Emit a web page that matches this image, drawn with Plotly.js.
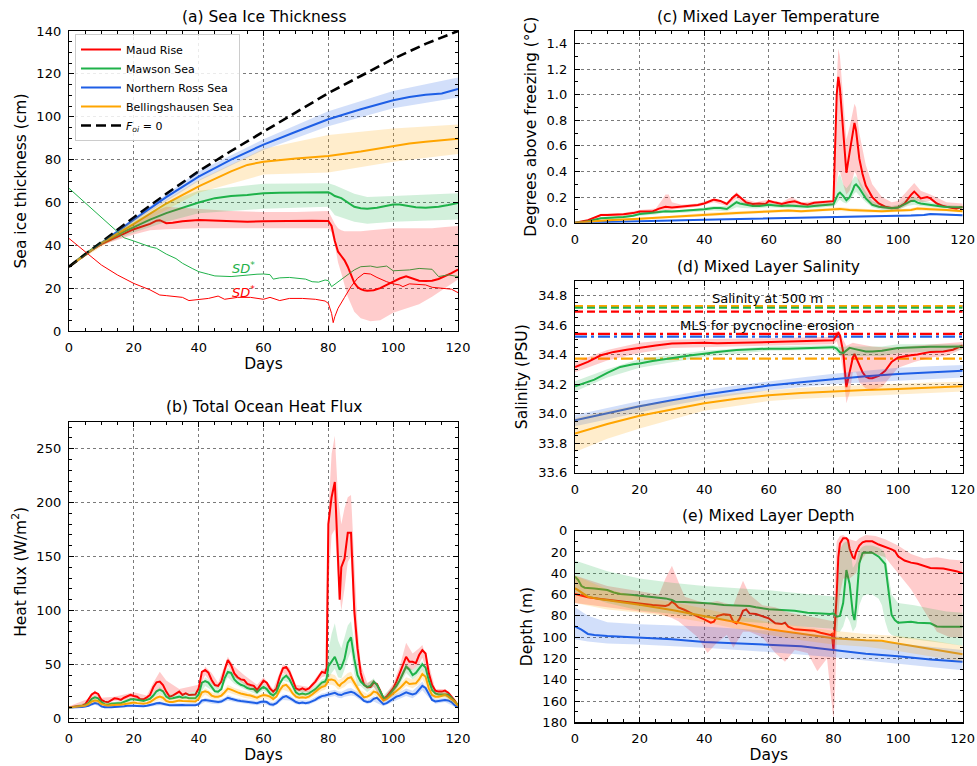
<!DOCTYPE html>
<html><head><meta charset="utf-8">
<script src="https://cdn.plot.ly/plotly-3.0.1.min.js"></script>
<style>html,body{margin:0;padding:0;background:#fff}#chart{width:977px;height:766px}</style>
</head><body><div id="chart"></div>
<script>
// ---------------- (a) Sea ice thickness ----------------
const aFoiDays = [0,10,20,30,40,50,60,70,80,90,100,110,120];
const aFoi     = [30,41.5,53,64,74.5,84,93,102,111,119,127,134,140];

const aRedDays = [0,5,10,15,20,25,27,28,30,32,35,40,45,50,55,60,65,70,75,80,81,82,83,84,85,86,87,88,89,90,91,92,94,96,98,100,102,104,106,108,110,112,114,116,118,120];
const aRed     = [30,36,40.5,44,47.5,50,51.5,51.7,50.3,50.5,51.2,51.8,51.5,51,51,51.2,51.4,51.4,51.5,51.3,49,42,37,35,33,30,26,22.5,20.5,19.5,19,18.8,19,20,21.5,23,24.5,25.5,24.5,23.5,23.3,23.5,24.3,25.5,27,28.7];
const aRedBandDays = [0,10,20,25,30,40,50,60,70,80,81,82,83,84,85,86,88,90,93,96,100,104,108,112,116,120];
const aRedHi = [30,41,50,55,58,57,56,55.5,55.5,56,53,50,48,47,46.5,46.5,46.5,46.5,47,47.5,48,48,48,48,48.5,49];
const aRedLo = [30,40,45,47,47.5,48,48,48,48,48,46,40,32,27,22,16,9,6,4.5,5,8.5,10.5,12.5,16,20,24];

const aGreenDays = [0,5,10,15,20,25,30,35,40,45,50,55,60,65,70,75,80,81,82,84,86,88,90,92,95,98,100,102,104,107,110,114,117,120];
const aGreen     = [30,36,41,45,48.5,52,55,57.5,60,62,63,63.5,64.3,64.5,64.5,64.8,64.8,64,63,62,60,58,57.3,57,57.5,58.5,59,59,58.5,57.8,57.5,58,58.8,59.8];
const aGreenBandDays = [0,10,20,30,40,60,80,82,88,92,100,120];
const aGreenHi = [30,42,51,60,65.5,68.7,69,68,64,62.5,63,64.3];
const aGreenLo = [30,40,46,51,55,57,58,54,51,50,51,52];

const aBlueDays = [0,10,20,30,40,50,60,70,80,90,100,105,110,115,120];
const aBlue     = [30,41,52,62.5,72,80,87,93,98.8,103.5,107.7,109.2,110.2,110.8,113];
const aBlueBandDays = [0,20,40,60,80,100,120];
const aBlueHi = [30,53,74.5,89.5,102.5,112,118.3];
const aBlueLo = [30,51,70,84.5,95.5,104,109];

const aOrangeDays = [0,10,20,30,40,50,55,60,70,80,90,100,105,110,120];
const aOrange     = [30,41,50,59.5,67.5,74.5,77.5,79,80.5,81.7,83.8,86.2,87.5,88.3,89.7];
const aOrangeBandDays = [0,20,40,60,80,100,120];
const aOrangeHi = [30,52,70.5,85,91.5,94.5,96.4];
const aOrangeLo = [30,48.5,64.5,73,74,79,82.6];

const aSDgDays = [0,5,10,15,17,20,22,25,27,30,33,35,38,40,43,45,50,55,58,60,62,63,65,68,70,73,75,77,79,80,81,83,85,88,90,93,95,98,100,102,105,108,110,112,114,117,120];
const aSDg     = [66.6,59.8,53,45.9,43.5,42,40.8,39.3,38.6,35.9,33.8,31.6,29.2,27.7,26.5,25.7,25.4,26.2,26.5,26.6,26.3,24.2,24.8,25,24.6,24.2,23,22.8,23.8,23.5,20.7,23,25.4,28.5,30,30.3,29.7,30.3,28.1,28.3,28.5,29.2,29,28.8,25.4,26.2,25.4];
const aSDrDays = [0,5,10,15,20,25,28,30,35,37,40,43,46,48,52,56,60,62,65,68,72,76,79,80,81,81.5,82,83,85,87,89,91,93,95,98,100,102,103,105,108,110,112,116,118,120];
const aSDr     = [43.2,37,30.8,26.1,22.2,19.2,16.8,16.5,15.7,14.2,14.8,15.2,16.3,14.8,15.7,15.7,14.8,15.7,14.2,15.2,15.2,14.8,14,12.9,8.2,3.9,6.7,10.6,15.7,20.7,24.6,26.9,26.6,25,23,22,21.5,20.7,22,21.5,21.5,20.4,19.9,19.5,17.9];

// ---------------- (b) Total ocean heat flux ----------------
const bDays = [0,1,2,3,4,5,6,7,8,9,10,11,12,13,14,15,16,17,18,19,20,21,22,23,24,25,26,27,28,29,30,31,32,33,34,35,36,37,38,39,40,41,42,43,44,45,46,47,48,49,50,51,52,53,54,55,56,57,58,59,60,61,62,63,64,65,66,67,68,69,70,71,72,73,74,75,76,77,78,79,79.5,80,81,82,83,83.5,84,85,86,87,88,89,90,91,92,93,94,95,96,97,98,99,100,101,102,103,104,105,106,107,108,109,110,111,112,113,114,115,116,117,118,119,120];
const bRed = [10.2,10.5,10.8,11,11.4,13,17,22,24,22.5,17,15.4,14.8,17,18.5,18,17,19,20.6,21.6,20.6,20,17.6,17.6,19.4,21.6,28.7,33.3,34,30.8,24.7,20,21,22.5,24.7,21.6,23,21.6,21.6,22,27.7,43,44.7,42.3,35.5,30.8,30,34,44.7,54,49.4,41.6,38,36,35.5,31.8,30.8,30,26.2,30.8,34.8,33,27.7,24.7,27.7,38.5,46.3,47.5,43,35.5,27.7,26.2,27.7,26.2,27.7,30.8,34,38.5,43,42,47,180,205,219,155,110,140,148,172,172,100,65,42,31,28.7,29,33,31.8,25.6,18.5,20,23.7,27.7,34,41.6,49.4,57,52.4,52.4,51,58.6,63.2,60,41.6,30.8,25.6,24.7,24.7,25.6,23.7,20,16.3,11.4];
const bGreen = [10,10.2,10.5,10.8,11,12,14,18,19.4,18.5,15,13,12.5,13.5,14,14,14,15,16.5,17.5,17.5,17,16,16,17,18,21,25,26.5,25,20,18,18.5,19,20,19,19.5,18.5,18.5,18.5,22,33,34.5,33,29,25,24.5,27,37,43,42,36,33,31,30,28,27,27,24,27,29,27,23,21,24,32,37,39.5,36,30,24,22,23,22,23,25,27,30,33,34,37,48,52,57,49,45,47,55,70,75,55,40,34,31,29,30,34,31,25,19,18.5,22,26.5,30,35,42,48,45,40,42,46,50,47,35,26,23,22,22,22.5,22,19,15.5,12.3];
const bBlue = [10,10,10.2,10.3,10.5,10.8,11.5,13,14,13.5,11,10.2,10,10.2,10.5,10.5,10.5,11,11.5,11.8,11.5,11.3,11,11,11.5,12,13,13.8,14,13.5,12.5,12,12,12.2,12.5,12.3,12,12,12,12,13,16.5,17,16.5,15.5,15,15,15.5,17,19,18,17,16.5,16,15.5,15.3,15,14.5,14,15,15.5,15,13,12.5,14,17,19.5,20.5,19,17,15,14,14.5,14,14.5,15.5,17,19,20.5,21,21.5,22,23,23.5,22,21.5,21.5,23,24,24.5,23.5,21.5,19,16,15,15.5,18,19,16,13,14,16,18.5,20,21,22.5,24,23,22,23,27,30,28,22,17,15.5,16,16.5,17,16.5,15,12,10];
const bOrange = [10,10.2,10.4,10.6,11,11.5,13,15.5,16.5,16,13,12,11.5,12,12.5,12.5,12.5,13,14,14.5,14.5,14,13.5,13.5,14,15,17,19,20,19,16,15,15,15.5,16.5,16,16,15.5,15.5,15.5,18,24,25,24,21,20,20,21,24,27.5,26.5,25,24,23,22,21.5,21,20,19,20.5,21.6,21,20,17.9,20,26,30,31,27.7,23,20,19,19.4,19,20,22,24.7,27,29,30,32,35.5,36,35,31,30,32,34,37,38,33,27.7,23,19.4,20,21.6,24.7,23.7,20,16.3,17.6,20,23,24.7,27.7,30.8,34,31.8,31.8,32.4,36,41,38.5,27.7,21.6,20,20,20.6,21.6,20,17.6,15.4,11.4];
const bBandDays = [0,6,8,10,14,20,24,26,28,30,34,40,42,44,46,48,49,51,54,58,60,63,66,68,70,74,78,79,80,81,82,83,84,85,86,87,88,89,90,92,94,97,100,102,104,106,108,109,111,113,116,120];
const bRedHi = [11,18,26,19,20,24,21,33,43,35,27,31,48,42,33,50,57,48,40,31,38,27,50,47,31,29,45,46,190,245,262,205,180,195,205,207,140,85,50,33,36,19,32,48,70,60,65,68,50,27,27,13];
const bRedLo = [9.5,14,21,15,16,18,17,23,28,21,22,25,40,32,27,40,49,38,32,23,32,22,42,38,25,24,38,39,120,170,175,130,100,120,145,150,80,50,35,27,29,15,23,33,45,45,50,56,37,22,22,11];
const bGreenHi = [10.5,15,21,16,15,19,18,23,29,22,22,25,38,33,28,41,47,40,33,27,32,24,41,39,27,25,36,37,62,78,88,72,65,75,86,90,68,50,36,32,37,21,30,39,50,45,50,53,38,24,25,13];
const bGreenLo = [9.5,13,17,14,13,16,16,19,23,18,18,20,30,26,22,33,38,32,27,22,26,19,35,33,21,21,30,31,36,42,46,38,37,45,55,62,42,30,30,24,29,16,23,31,42,36,41,45,31,21,20,11];
const bBlueHW = [0.5,1,1.5,1,1,1.2,1.2,1.5,2,1.5,1.5,1.5,2,2,2,2,2.5,2,2,2,2,2,2.5,2.5,2,2,2.5,2.5,3,3,3,3,3,3,3.5,3.5,3,3,2.5,2,2.5,2,3,3,3.5,3.5,4,4,3,2,2,1];
const bOrangeHW = [0.5,1.5,2,1.5,1.5,1.5,1.5,2,3,2,2,2,3,3,2.5,3,3.5,3,3,2.5,2.5,2.5,3.5,3.5,2.5,2.5,3.5,3.5,4.5,5,5,4.5,4.5,5,5,5,4.5,3.5,3,2.5,3,2,3,3.5,4,4,4.5,4.5,3.5,2.5,2.5,1];

// ---------------- (c) Mixed layer temperature ----------------
const cDays = [0,4,8,10,15,18,20,24,26,28,30,35,38,40,43,45,47,49,50,51,53,55,57,59,60,62,64,66,68,70,72,74,76,78,80,81,81.5,82,83,84,85,86,86.5,87,88,89,90,92,94,96,98,100,102,104,105,106,107,109,110,112,114,116,118,120];
const cRed = [0,0.02,0.06,0.06,0.066,0.075,0.088,0.088,0.11,0.125,0.118,0.128,0.138,0.15,0.18,0.17,0.146,0.2,0.22,0.2,0.157,0.146,0.15,0.146,0.17,0.157,0.146,0.16,0.168,0.15,0.14,0.155,0.16,0.162,0.168,1.0,1.14,1.05,0.7,0.39,0.55,0.72,0.78,0.72,0.5,0.38,0.29,0.2,0.15,0.125,0.115,0.118,0.15,0.217,0.243,0.217,0.19,0.2,0.19,0.15,0.13,0.118,0.11,0.125];
const cGreen = [0,0.012,0.035,0.037,0.045,0.055,0.068,0.078,0.083,0.09,0.088,0.095,0.1,0.105,0.115,0.115,0.107,0.145,0.16,0.15,0.14,0.13,0.13,0.135,0.14,0.135,0.13,0.135,0.133,0.13,0.125,0.13,0.133,0.14,0.144,0.2,0.225,0.235,0.21,0.175,0.2,0.256,0.29,0.3,0.27,0.23,0.19,0.14,0.125,0.118,0.112,0.118,0.146,0.17,0.172,0.157,0.15,0.142,0.14,0.135,0.125,0.122,0.12,0.12];
const cBandDays = [0,5,8,15,20,25,27,28,29,30,33,38,43,47,50,52,56,60,64,67,70,75,79,80,81,81.5,82,83,84,85,86,86.5,87,88,90,92,95,98,100,103,105,107,110,115,120];
const cRedHi = [0,0.03,0.07,0.075,0.1,0.11,0.18,0.22,0.22,0.16,0.14,0.15,0.19,0.16,0.24,0.19,0.16,0.18,0.16,0.2,0.16,0.17,0.18,0.18,1.1,1.36,1.3,0.95,0.65,0.75,0.88,0.93,0.9,0.7,0.45,0.3,0.2,0.16,0.17,0.25,0.31,0.25,0.22,0.16,0.15];
const cRedLo = [0,0.01,0.05,0.055,0.075,0.075,0.1,0.1,0.1,0.1,0.11,0.125,0.16,0.13,0.19,0.15,0.125,0.15,0.13,0.14,0.13,0.13,0.14,0.14,0.3,0.4,0.4,0.3,0.22,0.25,0.35,0.4,0.38,0.3,0.2,0.14,0.11,0.1,0.1,0.14,0.18,0.16,0.17,0.12,0.1];
const cGreenHi = [0,0.02,0.045,0.055,0.08,0.09,0.1,0.1,0.1,0.1,0.1,0.11,0.13,0.13,0.18,0.16,0.15,0.155,0.145,0.15,0.14,0.15,0.16,0.16,0.3,0.36,0.38,0.3,0.27,0.3,0.34,0.36,0.36,0.33,0.24,0.17,0.14,0.13,0.14,0.19,0.2,0.18,0.16,0.14,0.13];
const cGreenLo = [0,0.01,0.025,0.035,0.055,0.065,0.075,0.075,0.078,0.075,0.075,0.085,0.095,0.09,0.12,0.115,0.11,0.12,0.115,0.115,0.11,0.115,0.125,0.125,0.15,0.17,0.18,0.16,0.15,0.17,0.21,0.23,0.24,0.21,0.16,0.12,0.1,0.095,0.1,0.13,0.14,0.13,0.12,0.11,0.105];
const cDays2 = [0,10,20,30,40,50,60,66,70,80,82,85,90,95,100,104,106,108,110,115,120];
const cOrange = [0,0.02,0.03,0.045,0.065,0.075,0.088,0.095,0.09,0.105,0.108,0.1,0.095,0.09,0.095,0.1,0.11,0.11,0.105,0.1,0.09];
const cBlue = [0,0.004,0.01,0.017,0.024,0.03,0.035,0.037,0.038,0.045,0.047,0.05,0.052,0.053,0.055,0.056,0.057,0.06,0.067,0.062,0.058];
const cOrangeHW = [0,0.008,0.01,0.01,0.012,0.012,0.012,0.013,0.012,0.012,0.015,0.015,0.015,0.012,0.012,0.013,0.015,0.015,0.015,0.013,0.012];
const cBlueHW = [0,0.003,0.004,0.005,0.006,0.006,0.006,0.006,0.006,0.007,0.007,0.007,0.007,0.007,0.008,0.008,0.008,0.008,0.008,0.008,0.008];

// ---------------- (d) Mixed layer salinity ----------------
const dRedDays = [0,4,8,12,16,20,25,30,35,40,44,50,55,60,65,70,75,80,81,81.5,82,83,84,85,86,86.5,87,88,89,90,91,92,93,94,96,98,100,102,104,106,108,110,114,117,120];
const dRed = [34.316,34.35,34.395,34.418,34.433,34.447,34.462,34.474,34.478,34.48,34.476,34.48,34.482,34.485,34.487,34.49,34.493,34.496,34.53,34.546,34.53,34.42,34.18,34.28,34.38,34.405,34.38,34.33,34.28,34.25,34.24,34.24,34.245,34.255,34.29,34.35,34.38,34.39,34.395,34.4,34.41,34.418,34.42,34.433,34.462];
const dRedBandDays = [0,10,20,30,40,50,60,70,80,81,82,83,84,85,86,87,88,90,92,95,98,100,105,108,110,115,120];
const dRedHi = [34.35,34.43,34.48,34.5,34.505,34.505,34.51,34.515,34.52,34.56,34.555,34.5,34.46,34.47,34.48,34.475,34.47,34.46,34.455,34.45,34.45,34.45,34.46,34.465,34.47,34.48,34.485];
const dRedLo = [34.28,34.36,34.41,34.445,34.455,34.455,34.46,34.465,34.47,34.49,34.42,34.28,34.07,34.14,34.28,34.28,34.21,34.17,34.16,34.18,34.26,34.31,34.35,34.37,34.38,34.39,34.44];
const dGreenDays = [0,4,6,10,14,18,20,24,28,32,36,40,44,50,56,60,66,70,74,78,80,81,82,83,84,85,86,88,90,92,95,100,105,110,115,120];
const dGreen = [34.185,34.215,34.23,34.276,34.316,34.335,34.34,34.356,34.37,34.383,34.395,34.406,34.418,34.43,34.437,34.44,34.44,34.444,34.447,34.45,34.45,34.44,34.415,34.41,34.43,34.445,34.44,34.43,34.42,34.42,34.425,34.444,34.45,34.452,34.453,34.455];
const dGreenBandDays = [0,10,20,30,40,60,80,82,84,88,95,100,120];
const dGreenHi = [34.22,34.3,34.37,34.4,34.425,34.455,34.465,34.45,34.455,34.455,34.455,34.47,34.47];
const dGreenLo = [34.15,34.245,34.31,34.345,34.385,34.425,34.435,34.39,34.39,34.39,34.39,34.41,34.43];
const dDays2 = [0,10,20,30,40,50,60,70,80,90,100,110,120];
const dBlue = [33.955,34.005,34.05,34.09,34.128,34.16,34.19,34.212,34.235,34.253,34.268,34.28,34.29];
const dBlueHi = [33.99,34.04,34.085,34.12,34.158,34.19,34.22,34.245,34.27,34.292,34.31,34.32,34.33];
const dBlueLo = [33.915,33.965,34.01,34.055,34.095,34.128,34.158,34.18,34.2,34.215,34.225,34.235,34.245];
const dOrange = [33.865,33.93,33.985,34.03,34.07,34.1,34.125,34.14,34.152,34.16,34.167,34.178,34.185];
const dOrangeHi = [33.97,34.02,34.06,34.09,34.115,34.14,34.16,34.175,34.185,34.195,34.2,34.21,34.215];
const dOrangeLo = [33.74,33.83,33.9,33.96,34.02,34.055,34.085,34.1,34.115,34.125,34.13,34.14,34.15];
// reference levels: salinity at 500 m (dashed) and MLS for pycnocline erosion (dash-dot)
const dS500 = {blue:34.728, orange:34.728, green:34.717, red:34.69};
const dMLS  = {orange:34.372, blue:34.522, red:34.54};

// ---------------- (e) Mixed layer depth ----------------
const eRedDays = [0,2,4,8,12,16,20,24,28,29,30,31,32,34,36,38,40,42,43,44,46,48,49,50,51,52,53,54,56,58,60,62,64,65,66,68,70,72,74,76,78,79,79.5,80,81,81.5,82,83,84,84.5,85,86,86.5,87,88,89,90,92,94,96,98,99,100,102,104,106,108,110,114,116,118,120];
const eRed = [59.5,61.4,62.6,64.2,65.8,66.7,68.3,69.8,70.8,69.8,66.7,68.9,72,74.5,77.7,80.8,83.3,86.4,85.4,80.2,78.6,79.2,85.5,87.1,82.4,75.2,73.9,77.7,78.3,80.2,82.4,87,87.7,86.4,90.2,92.7,93.3,94,94,95.8,97.1,98,97,112,60,25,12,7,7,9,17,25,26,20,14,11,10,10,13,15,17.5,19,24,28,30,31,33,35,35.5,36.5,38,40];
const eRedBandDays = [0,10,20,26,28,30,32,34,38,41,44,47,49,50,52,54,58,62,65,68,72,75,78,80,80.5,81,82,83,85,87,88,90,93,96,100,104,108,112,116,120];
const eRedHi = [42,52,57,60,45,33,48,62,66,68,66,68,70,62,47,60,70,72,76,78,80,82,84,85,40,10,5,4,8,10,7,4,5,8,14,22,26,25,27,28];
const eRedLo = [68,72,76,78,80,82,85,90,100,115,105,98,110,105,95,95,100,115,123,112,115,132,120,178,150,100,60,45,45,40,30,22,22,25,40,55,75,95,100,100];
const eGreenDays = [0,1,2,3,6,8,10,12,14,18,22,26,28,30,31,34,38,42,46,50,54,56,60,64,68,72,76,79,80,81,82,83,84,85,86,86.5,87,88,89,90,92,94,96,97,98,99,100,104,106,110,112,114,116,120];
const eGreen = [43.2,46.3,52,53.6,54.2,54.8,55.7,58,59.5,60.4,61.4,62.6,63.6,65.1,66.7,67,67.6,68.3,69.8,70.5,70.8,72,73.9,74.5,75.2,77,77.7,78.3,77.7,80.8,80,68,37,50,77.7,84,71,30.7,21,20.4,20.7,24.4,31.3,55.7,79.2,84,86.4,85.5,86.4,87,90,90.2,90.2,90.2];
const eGreenBandDays = [0,10,20,30,40,50,60,70,80,81,82,83,84,85,86,87,88,89,90,92,94,95,96,97,98,100,105,110,115,120];
const eGreenHi = [28,38,45,49,52,54,56,59,62,62,18,12,10,12,35,30,18,15,14,14,16,18,22,40,60,68,70,73,76,77];
const eGreenLo = [58,68,75,78,82,85,87,90,92,95,95,90,80,85,95,90,70,62,60,60,64,70,85,95,98,100,102,104,106,108];
const eOrangeDays = [0,2,4,8,12,20,30,40,50,60,70,80,90,95,97,100,105,110,120];
const eOrange = [54,58,62,64.5,66,69.5,74.5,80,86,92.5,97,101,103,103.5,104.5,106,109,111,116];
const eOrangeBandDays = [0,10,20,30,40,50,60,70,80,90,100,110,120];
const eOrangeHi = [42,55,62,67,73,80,86,90,94,97,99,103,108];
const eOrangeLo = [68,74,77,81,86,92,98,103,107,109,113,118,123];
const eBlueDays = [0,2,4,6,10,20,30,40,50,60,70,80,90,100,110,120];
const eBlue = [90,93,97,98,99,100.5,102,104.5,106,107.2,108.5,112,115.5,118,121,123];
const eBlueBandDays = [0,4,10,20,40,60,80,100,120];
const eBlueHi = [72,80,86,88,90,94,99,106,112];
const eBlueLo = [102,104,106,107,110,114,119,125,131];

// ---------------- drawing ----------------
const W = 977, H = 766;
const FONT = 'DejaVu Sans, Verdana, sans-serif';
const RED = '#ff0000', GREEN = '#1fb24a', BLUE = '#1f5fe6', ORANGE = '#ffa500';
const RED_F = 'rgba(255,0,0,0.2)', GREEN_F = 'rgba(31,178,74,0.2)', BLUE_F = 'rgba(31,95,230,0.2)', ORANGE_F = 'rgba(255,165,0,0.2)';

const traces = [];
function ax(n){ return n === 1 ? ['x','y'] : ['x'+n,'y'+n]; }
function L(n, x, y, color, opt){
  const [xa, ya] = ax(n);
  const t = {type:'scatter', mode:'lines', x:x, y:y, xaxis:xa, yaxis:ya,
    line:{color:color, width:2}, hoverinfo:'skip', showlegend:false};
  if (opt) Object.assign(t, opt);
  traces.push(t);
}
function B(n, x, lo, hi, fill){
  const [xa, ya] = ax(n);
  traces.push({type:'scatter', mode:'lines', x:x.concat(x.slice().reverse()),
    y:hi.concat(lo.slice().reverse()), fill:'toself', fillcolor:fill,
    line:{width:0, color:'rgba(0,0,0,0)'}, xaxis:xa, yaxis:ya, hoverinfo:'skip', showlegend:false});
}
function HW(bandX, hw, lineX, lineY){
  const lo = [], hi = [];
  bandX.forEach((d, i) => { const m = lineY[lineX.indexOf(d)]; lo.push(m - hw[i]); hi.push(m + hw[i]); });
  return [lo, hi];
}

// (a)
L(1, aRedDays, aRed, RED, {name:'Maud Rise', showlegend:true});
L(1, aGreenDays, aGreen, GREEN, {name:'Mawson Sea', showlegend:true});
L(1, aBlueDays, aBlue, BLUE, {name:'Northern Ross Sea', showlegend:true});
L(1, aOrangeDays, aOrange, ORANGE, {name:'Bellingshausen Sea', showlegend:true});
L(1, aFoiDays, aFoi, '#000000', {name:'<i>F</i><sub><i>oi</i></sub> = 0', showlegend:true, line:{color:'#000', width:2.6, dash:'10px,5px'}});
L(1, aSDgDays, aSDg, GREEN, {line:{color:GREEN, width:1}});
L(1, aSDrDays, aSDr, RED, {line:{color:RED, width:1}});
B(1, aRedBandDays, aRedLo, aRedHi, RED_F);
B(1, aGreenBandDays, aGreenLo, aGreenHi, GREEN_F);
B(1, aBlueBandDays, aBlueLo, aBlueHi, BLUE_F);
B(1, aOrangeBandDays, aOrangeLo, aOrangeHi, ORANGE_F);

// (b)
L(2, bDays, bRed, RED);
L(2, bDays, bGreen, GREEN);
L(2, bDays, bBlue, BLUE);
L(2, bDays, bOrange, ORANGE);
B(2, bBandDays, bRedLo, bRedHi, RED_F);
B(2, bBandDays, bGreenLo, bGreenHi, GREEN_F);
let hb = HW(bBandDays, bBlueHW, bDays, bBlue); B(2, bBandDays, hb[0], hb[1], BLUE_F);
let ho = HW(bBandDays, bOrangeHW, bDays, bOrange); B(2, bBandDays, ho[0], ho[1], ORANGE_F);

// (c)
L(3, cDays, cRed, RED);
L(3, cDays, cGreen, GREEN);
L(3, cDays2, cBlue, BLUE);
L(3, cDays2, cOrange, ORANGE);
B(3, cBandDays, cRedLo, cRedHi, RED_F);
B(3, cBandDays, cGreenLo, cGreenHi, GREEN_F);
hb = HW(cDays2, cBlueHW, cDays2, cBlue); B(3, cDays2, hb[0], hb[1], BLUE_F);
ho = HW(cDays2, cOrangeHW, cDays2, cOrange); B(3, cDays2, ho[0], ho[1], ORANGE_F);

// (d) reference levels
function H4(v, color, dash){ L(4, [0,120], [v,v], color, {line:{color:color, width:2.2, dash:dash}}); }
H4(dS500.blue, BLUE, '8px,4px');
H4(dS500.orange, ORANGE, '8px,4px');
H4(dS500.green, GREEN, '8px,4px');
H4(dS500.red, RED, '8px,4px');
H4(dMLS.orange, ORANGE, '12px,4px,3px,4px');
H4(dMLS.blue, BLUE, '12px,4px,3px,4px');
H4(dMLS.red, RED, '12px,4px,3px,4px');
L(4, dRedDays, dRed, RED);
L(4, dGreenDays, dGreen, GREEN);
L(4, dDays2, dBlue, BLUE);
L(4, dDays2, dOrange, ORANGE);
B(4, dRedBandDays, dRedLo, dRedHi, RED_F);
B(4, dGreenBandDays, dGreenLo, dGreenHi, GREEN_F);
B(4, dDays2, dBlueLo, dBlueHi, BLUE_F);
B(4, dDays2, dOrangeLo, dOrangeHi, ORANGE_F);

// (e)
L(5, eRedDays, eRed, RED);
L(5, eGreenDays, eGreen, GREEN);
L(5, eBlueDays, eBlue, BLUE);
L(5, eOrangeDays, eOrange, ORANGE);
B(5, eRedBandDays, eRedLo, eRedHi, RED_F);
B(5, eGreenBandDays, eGreenLo, eGreenHi, GREEN_F);
B(5, eBlueBandDays, eBlueLo, eBlueHi, BLUE_F);
B(5, eOrangeBandDays, eOrangeLo, eOrangeHi, ORANGE_F);

// ---------------- layout ----------------
const xL = [69/W, 458/W], xR = [575/W, 962.7/W];
const yA = [1-331/H, 1-31/H], yB = [1-722/H, 1-421.7/H], yC = [1-222.7/H, 1-30.7/H],
      yD = [1-472.7/H, 1-280.7/H], yE = [1-722.3/H, 1-530.7/H];
const TICKF = {family:FONT, size:13, color:'#000'};
const LABF = {family:FONT, size:15.5, color:'#000'};
function common(){ return {ticks:'inside', ticklen:5, tickwidth:1, tickcolor:'#000', mirror:'allticks',
  showline:true, linecolor:'#000', linewidth:1.2, showgrid:true, gridcolor:'#7a7a7a', griddash:'dot', gridwidth:1,
  zeroline:false, tickfont:TICKF, ticklabelstandoff:4, fixedrange:true}; }
function X(dom, anchor, title){
  const o = Object.assign(common(), {domain:dom, anchor:anchor, range:[0,120], tick0:0, dtick:20,
    minor:{dtick:5, ticks:'inside', ticklen:3, tickcolor:'#000', showgrid:false}});
  if (title) o.title = {text:title, font:LABF, standoff:4};
  return o;
}
function Y(dom, anchor, range, dtick, mdt, title, fmt){
  const o = Object.assign(common(), {domain:dom, anchor:anchor, range:range, tick0:0, dtick:dtick,
    minor:{dtick:mdt, ticks:'inside', ticklen:3, tickcolor:'#000', showgrid:false},
    title:{text:title, font:LABF, standoff:6}});
  if (fmt) o.tickformat = fmt;
  return o;
}
function ttl(text, xc, yc){ return {text:text, xref:'paper', yref:'paper', x:xc/W, y:1-yc/H,
  xanchor:'center', yanchor:'middle', showarrow:false, font:{family:FONT, size:15.5, color:'#000'}}; }

const layout = {
  width:W, height:H, margin:{l:0, r:0, t:0, b:0}, paper_bgcolor:'#fff', plot_bgcolor:'#fff',
  font:{family:FONT, color:'#000'},
  xaxis: X(xL, 'y', 'Days'),
  yaxis: Y(yA, 'x', [0,140], 20, 5, 'Sea ice thickness (cm)'),
  xaxis2: X(xL, 'y2', 'Days'),
  yaxis2: Y(yB, 'x2', [-3.5,275], 50, 10, 'Heat flux (W/m<sup>2</sup>)'),
  xaxis3: X(xR, 'y3', null),
  yaxis3: Y(yC, 'x3', [0,1.5], 0.2, 0.1, 'Degrees above freezing (°C)', '.1f'),
  xaxis4: X(xR, 'y4', null),
  yaxis4: Y(yD, 'x4', [33.6,34.9], 0.2, 0.05, 'Salinity (PSU)', '.1f'),
  xaxis5: X(xR, 'y5', 'Days'),
  yaxis5: Y(yE, 'x5', [180,0], 20, 10, 'Depth (m)'),
  showlegend:true,
  legend:{x:75/W, y:1-34/H, xanchor:'left', yanchor:'top', bgcolor:'rgba(255,255,255,0.85)',
    bordercolor:'#cccccc', borderwidth:1, font:{family:FONT, size:11, color:'#000'},
    traceorder:'normal', itemwidth:40},
  annotations:[
    ttl('(a) Sea Ice Thickness', 263.5, 17),
    ttl('(b) Total Ocean Heat Flux', 263.5, 407),
    ttl('(c) Mixed Layer Temperature', 768.9, 17),
    ttl('(d) Mixed Layer Salinity', 768.9, 267),
    ttl('(e) Mixed Layer Depth', 768.9, 516),
    {text:'<i>SD</i><sup>*</sup>', xref:'x', yref:'y', x:53.8, y:29.3, showarrow:false,
      font:{family:FONT, size:13, color:GREEN}},
    {text:'<i>SD</i><sup>*</sup>', xref:'x', yref:'y', x:53.8, y:18.3, showarrow:false,
      font:{family:FONT, size:13, color:RED}},
    {text:'Salinity at 500 m', xref:'x4', yref:'y4', x:59.6, y:34.778, showarrow:false,
      font:{family:FONT, size:13, color:'#000'}},
    {text:'MLS for pycnocline erosion', xref:'x4', yref:'y4', x:59.5, y:34.6, showarrow:false,
      font:{family:FONT, size:13, color:'#000'}}
  ]
};

Plotly.newPlot('chart', traces, layout, {staticPlot:true, displayModeBar:false});
</script>
</body></html>
